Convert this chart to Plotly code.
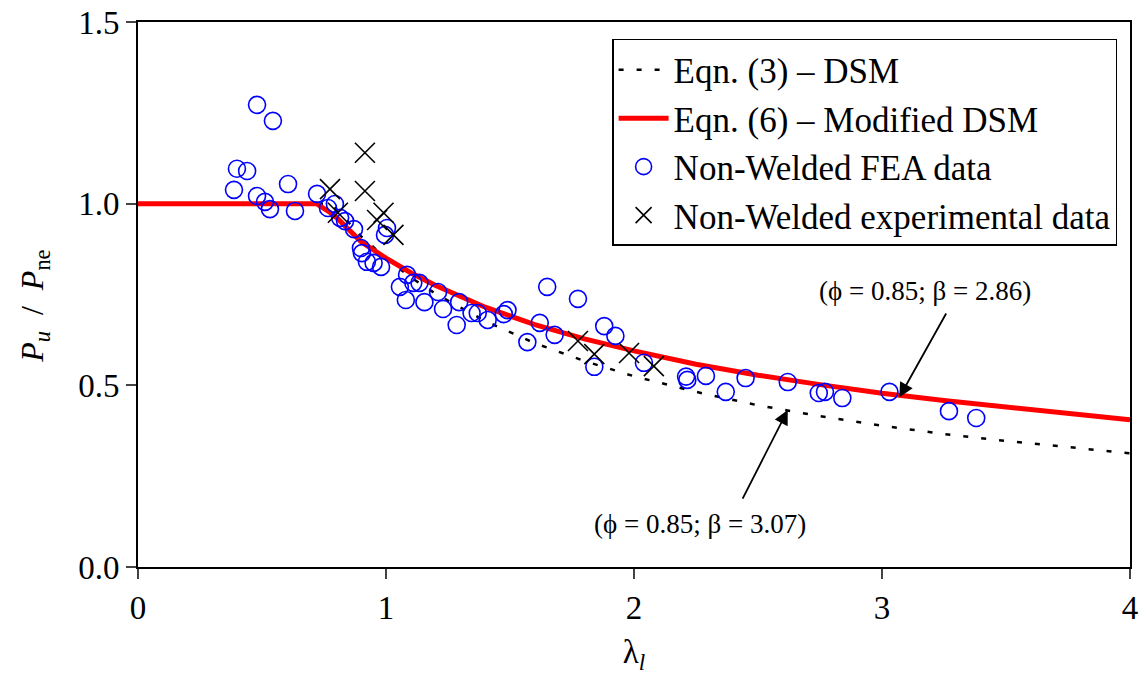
import plotly.graph_objects as go

# Curves
lam_curve = [0, 0.72, 0.776, 0.8, 0.9, 1.0, 1.1, 1.2, 1.4, 1.6, 1.8, 2.0, 2.25, 2.5, 2.75, 3.0, 3.25, 3.5, 3.75, 4.0]
dsm_eq3 = [1.0, 1.0, 1.0, 0.985, 0.91, 0.85, 0.797, 0.752, 0.677, 0.616, 0.567, 0.525, 0.482, 0.445, 0.415, 0.389, 0.366, 0.347, 0.329, 0.313]
dsm_eq6 = [1.0, 1.0, 0.975, 0.962, 0.895, 0.85, 0.81, 0.775, 0.715, 0.667, 0.628, 0.595, 0.558, 0.528, 0.502, 0.478, 0.458, 0.440, 0.423, 0.405]

# Non-welded FEA data
fea_x = [0.48, 0.544, 0.399, 0.44, 0.387, 0.48, 0.512, 0.532, 0.605, 0.633, 0.722, 0.766, 0.794, 0.815,
         0.835, 0.871, 1.004, 0.996, 0.899, 0.903, 0.923, 0.95, 0.98, 1.085, 1.056, 1.11, 1.135, 1.08,
         1.155, 1.21, 1.23, 1.295, 1.285, 1.345, 1.37, 1.41, 1.475, 1.49, 1.65, 1.62, 1.68, 1.57,
         1.774, 1.88, 1.925, 1.84, 2.04, 2.21, 2.215, 2.29, 2.37, 2.45, 2.62, 2.745, 2.77, 2.84,
         3.03, 3.27, 3.38]
fea_y = [1.272, 1.228, 1.096, 1.09, 1.038, 1.021, 1.005, 0.985, 1.054, 0.98, 1.027, 0.988, 0.999, 0.961,
         0.952, 0.93, 0.933, 0.914, 0.878, 0.864, 0.84, 0.837, 0.826, 0.804, 0.771, 0.782, 0.782, 0.735,
         0.729, 0.757, 0.71, 0.729, 0.666, 0.699, 0.699, 0.68, 0.696, 0.707, 0.771, 0.672, 0.639, 0.619,
         0.738, 0.663, 0.636, 0.551, 0.562, 0.524, 0.515, 0.526, 0.482, 0.52, 0.509, 0.479, 0.482, 0.465,
         0.482, 0.429, 0.41]

# Non-welded experimental data
exp_x = [0.774, 0.915, 0.915, 0.806, 0.99, 0.964, 1.03, 1.774, 1.84, 1.98, 2.08]
exp_y = [1.04, 1.14, 1.035, 0.975, 0.975, 0.955, 0.914, 0.622, 0.586, 0.589, 0.553]

x_ticks = [0, 1, 2, 3, 4]
y_ticks = [0.0, 0.5, 1.0, 1.5]
y_tick_text = ["0.0", "0.5", "1.0", "1.5"]

# Annotation labels (arrow head point, arrow tail point, label position)
ann_text = ["(\u03d5 = 0.85; \u03b2 = 2.86)", "(\u03d5 = 0.85; \u03b2 = 3.07)"]
ann_head = [(3.07, 0.467), (2.62, 0.432)]
ann_tail = [(3.262, 0.702), (2.435, 0.184)]
ann_label = [(3.175, 0.759), (2.265, 0.118)]

FONT = "Liberation Serif"

fig = go.Figure()
fig.add_trace(go.Scatter(x=lam_curve, y=dsm_eq3, mode="lines",
                         line=dict(color="black", width=2.5, dash="5px,13px"),
                         name="Eqn. (3) \u2013 DSM", legendrank=1))
fig.add_trace(go.Scatter(x=lam_curve, y=dsm_eq6, mode="lines",
                         line=dict(color="#FF0000", width=5),
                         name="Eqn. (6) \u2013 Modified DSM", legendrank=2))
fig.add_trace(go.Scatter(x=fea_x, y=fea_y, mode="markers",
                         marker=dict(symbol="circle-open", size=17, color="#0000FF",
                                     line=dict(width=1.6, color="#0000FF")),
                         name="Non-Welded FEA data", legendrank=3))
fig.add_trace(go.Scatter(x=exp_x, y=exp_y, mode="markers",
                         marker=dict(symbol="x-thin-open", size=20, color="black",
                                     line=dict(width=1.6, color="black")),
                         name="Non-Welded experimental data", legendrank=4))

for txt, (hx, hy), (tx, ty), (lx, ly) in zip(ann_text, ann_head, ann_tail, ann_label):
    fig.add_annotation(x=hx, y=hy, ax=tx, ay=ty, axref="x", ayref="y", xref="x", yref="y",
                       showarrow=True, arrowhead=2, arrowsize=1.6, arrowwidth=1.8,
                       arrowcolor="black", text="")
    fig.add_annotation(x=lx, y=ly, xref="x", yref="y", showarrow=False, text=txt,
                       font=dict(family=FONT, size=27, color="black"))

# Y axis title placed as a rotated annotation
fig.add_annotation(x=-0.104, y=0.479, xref="paper", yref="paper", showarrow=False,
                   textangle=-90, xanchor="center", yanchor="middle",
                   text="<i>P<sub>u</sub></i>  /  <i>P</i><sub>ne</sub>",
                   font=dict(family=FONT, size=32, color="black"))

fig.update_layout(
    width=1142, height=690,
    margin=dict(l=138, r=12, t=22, b=123, autoexpand=False),
    plot_bgcolor="white", paper_bgcolor="white",
    font=dict(family=FONT, size=33, color="black"),
    showlegend=True,
    legend=dict(x=0.987, y=0.969, xanchor="right", yanchor="top",
                bgcolor="white", bordercolor="black", borderwidth=1.5,
                font=dict(family=FONT, size=35, color="black"),
                itemwidth=50, tracegroupgap=0),
    xaxis=dict(range=[0, 4], tickvals=x_ticks, ticks="outside", ticklen=10, tickwidth=1.5,
               showline=True, linecolor="black", linewidth=2, mirror=True,
               showgrid=False, zeroline=False, automargin=False,
               tickfont=dict(family=FONT, size=33),
               title=dict(text="\u03bb<sub><i>l</i></sub>", font=dict(family=FONT, size=33))),
    yaxis=dict(range=[0, 1.5], tickvals=y_ticks, ticktext=y_tick_text, ticks="outside", ticklen=10,
               tickwidth=1.5, showline=True, linecolor="black", linewidth=2, mirror=True,
               showgrid=False, zeroline=False, automargin=False,
               tickfont=dict(family=FONT, size=33)),
)

fig.write_html("out.html", config={"displayModeBar": False},
               post_script="document.body.style.margin='0';")
